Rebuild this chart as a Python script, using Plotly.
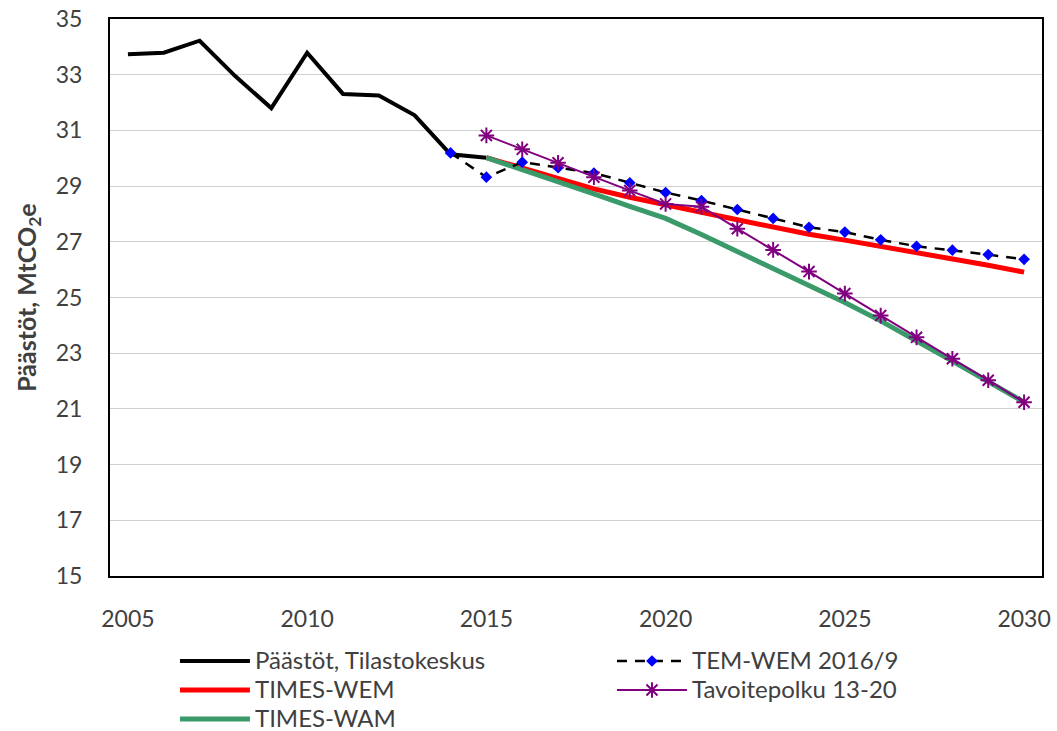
import plotly.graph_objects as go

years_hist = list(range(2005, 2016))
paastot = [33.73, 33.79, 34.22, 32.94, 31.80, 33.79, 32.31, 32.25, 31.54, 30.14, 30.02]

years_tem = list(range(2014, 2031))
tem_wem = [30.19, 29.32, 29.86, 29.66, 29.47, 29.12, 28.77, 28.48, 28.16, 27.84, 27.52,
           27.35, 27.07, 26.84, 26.70, 26.54, 26.37]

years_proj = list(range(2015, 2031))
times_wem = [30.02, 29.64, 29.26, 28.90, 28.60, 28.31, 28.06, 27.79, 27.52, 27.27, 27.06,
             26.84, 26.63, 26.40, 26.16, 25.91]
times_wam = [30.02, 29.60, 29.17, 28.72, 28.27, 27.84, 27.26, 26.66, 26.04, 25.42, 24.82,
             24.16, 23.46, 22.72, 21.98, 21.24]
tavoite = [30.82, 30.32, 29.84, 29.32, 28.84, 28.36, 28.26, 27.47, 26.71, 25.93, 25.14,
           24.35, 23.57, 22.80, 22.03, 21.24]

names = ["Päästöt, Tilastokeskus", "TEM-WEM 2016/9", "TIMES-WEM", "Tavoitepolku 13-20", "TIMES-WAM"]

x_ticks = [2005, 2010, 2015, 2020, 2025, 2030]
y_ticks = list(range(15, 36, 2))

FONT = "Lato"
TXT = "#404040"


def lg(name):
    return "<span style='font-size:24px'>" + name + "</span>"


fig = go.Figure()
fig.add_trace(go.Scatter(x=years_hist, y=paastot, mode="lines", name=lg(names[0]),
                         line=dict(color="black", width=4), legendrank=1))
fig.add_trace(go.Scatter(x=years_proj, y=times_wem, mode="lines", name=lg(names[2]),
                         line=dict(color="#ff0000", width=5), legendrank=3))
fig.add_trace(go.Scatter(x=years_proj, y=times_wam, mode="lines", name=lg(names[4]),
                         line=dict(color="#3a9a6a", width=5), legendrank=5))
fig.add_trace(go.Scatter(x=years_tem, y=tem_wem, mode="lines+markers", name=lg(names[1]),
                         line=dict(color="black", width=2.5, dash="10px,8px"),
                         marker=dict(symbol="diamond", size=9, color="#0000ff"), legendrank=2))
fig.add_trace(go.Scatter(x=years_proj, y=tavoite, mode="lines+markers", name=lg(names[3]),
                         line=dict(color="#800080", width=2),
                         marker=dict(symbol="asterisk-open", size=13,
                                     line=dict(color="#800080", width=2)), legendrank=4))

fig.update_layout(
    width=1057, height=731,
    margin=dict(l=110, r=15, t=19, b=155, autoexpand=False),
    paper_bgcolor="white", plot_bgcolor="white",
    font=dict(family=FONT, size=22, color=TXT),
    showlegend=True,
    legend=dict(orientation="h", x=0.0697, y=-0.1176, xanchor="left", yanchor="top",
                entrywidth=352, itemwidth=70, tracegroupgap=0,
                font=dict(family=FONT, size=20, color=TXT),
                traceorder="normal"),
    xaxis=dict(range=[2004.5, 2030.5], tickvals=x_ticks, showgrid=False, zeroline=False,
               showline=True, linecolor="black", linewidth=2, mirror=True,
               ticks="", ticklabelstandoff=21, automargin=False, ticklabeloverflow="allow",
               tickfont=dict(family=FONT, size=23, color=TXT)),
    yaxis=dict(range=[15, 35], tickvals=y_ticks, showgrid=True, gridcolor="#d0d0d0", gridwidth=1,
               zeroline=False, showline=True, linecolor="black", linewidth=2, mirror=True,
               ticks="", ticklabelstandoff=21, automargin=False, ticklabeloverflow="allow",
               tickfont=dict(family=FONT, size=23, color=TXT),
               title=dict(text="<b>Päästöt, MtCO<sub>2</sub>e</b>",
                          font=dict(family=FONT, size=25, color=TXT), standoff=12)),
)

fig.write_html("out.html", config={"displayModeBar": False},
               post_script="document.body.style.margin='0';document.body.style.overflow='hidden';")
